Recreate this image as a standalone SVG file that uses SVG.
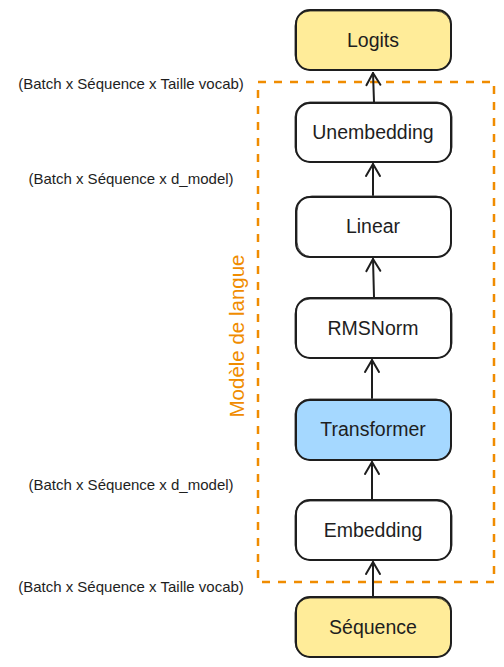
<svg xmlns="http://www.w3.org/2000/svg" width="504" height="667" viewBox="0 0 504 667">
<defs>
<style>
.box{stroke:#1e1e1e;stroke-width:2;}
.sk{fill:none;stroke:#1e1e1e;stroke-width:1;opacity:0.8;}
.t{font-family:"Liberation Sans",Arial,sans-serif;font-size:19.5px;fill:#1e1e1e;text-anchor:middle;dominant-baseline:central;}
.lab{font-family:"Liberation Sans",Arial,sans-serif;font-size:15px;fill:#1e1e1e;text-anchor:middle;dominant-baseline:central;}
.con{fill:none;stroke:#1e1e1e;stroke-width:2;stroke-linecap:round;}
</style>
<marker id="ah" viewBox="0 0 20 20" refX="18" refY="10" markerWidth="20" markerHeight="20" markerUnits="userSpaceOnUse" orient="auto">
<path d="M6,3 L18,10 L6,17" fill="none" stroke="#1e1e1e" stroke-width="2" stroke-linecap="round" stroke-linejoin="round"/>
</marker>
</defs>
<rect x="0" y="0" width="504" height="667" fill="#ffffff"/>

<g id="group-modele">
<rect x="258" y="82" width="236" height="500" fill="none" stroke="#f08c00" stroke-width="2.5" stroke-dasharray="8 8"/>
<text x="236" y="336" transform="rotate(-90 236 336)" font-family="'Liberation Sans',Arial,sans-serif" font-size="20.5" fill="#f08c00" text-anchor="middle" dominant-baseline="central">Modèle de langue</text>
</g>

<g id="connectors">
<line class="con" x1="373" y1="597" x2="373" y2="562" marker-end="url(#ah)"/>
<line class="con" x1="372" y1="499" x2="372" y2="462" marker-end="url(#ah)"/>
<line class="con" x1="372" y1="398" x2="372" y2="360" marker-end="url(#ah)"/>
<line class="con" x1="374" y1="297" x2="373" y2="259" marker-end="url(#ah)"/>
<line class="con" x1="373" y1="195" x2="373" y2="164" marker-end="url(#ah)"/>
<line class="con" x1="374" y1="102" x2="373" y2="73" marker-end="url(#ah)"/>
</g>

<g id="node-logits">
<rect class="box" x="296" y="10" width="155" height="60" rx="14" fill="#ffec99"/>
<rect class="sk" x="295" y="11" width="156" height="59" rx="15"/>
<text class="t" x="373" y="40">Logits</text>
</g>

<g id="node-unembedding">
<rect class="box" x="296" y="103" width="155" height="59" rx="14" fill="#ffffff"/>
<rect class="sk" x="295" y="102" width="157" height="60" rx="15"/>
<text class="t" x="373" y="132">Unembedding</text>
</g>

<g id="node-linear">
<rect class="box" x="296" y="197" width="155" height="60" rx="14" fill="#ffffff"/>
<rect class="sk" x="297" y="196" width="154" height="61" rx="15"/>
<text class="t" x="373" y="226">Linear</text>
</g>

<g id="node-rmsnorm">
<rect class="box" x="296" y="298" width="155" height="60" rx="14" fill="#ffffff"/>
<rect class="sk" x="295" y="299" width="157" height="59" rx="15"/>
<text class="t" x="373" y="328">RMSNorm</text>
</g>

<g id="node-transformer">
<rect class="box" x="296" y="400" width="155" height="60" rx="14" fill="#a5d8ff"/>
<rect class="sk" x="295" y="399" width="156" height="61" rx="15"/>
<text class="t" x="373" y="429">Transformer</text>
</g>

<g id="node-embedding">
<rect class="box" x="296" y="500" width="155" height="60" rx="14" fill="#ffffff"/>
<rect class="sk" x="295" y="501" width="157" height="59" rx="15"/>
<text class="t" x="373" y="530">Embedding</text>
</g>

<g id="node-sequence">
<rect class="box" x="296" y="597" width="155" height="60" rx="14" fill="#ffec99"/>
<rect class="sk" x="295" y="598" width="156" height="59" rx="15"/>
<text class="t" x="373" y="627">Séquence</text>
</g>

<g id="labels">
<text class="lab" x="131" y="83">(Batch x Séquence x Taille vocab)</text>
<text class="lab" x="131" y="178">(Batch x Séquence x d_model)</text>
<text class="lab" x="131" y="484">(Batch x Séquence x d_model)</text>
<text class="lab" x="131" y="586">(Batch x Séquence x Taille vocab)</text>
</g>
</svg>
